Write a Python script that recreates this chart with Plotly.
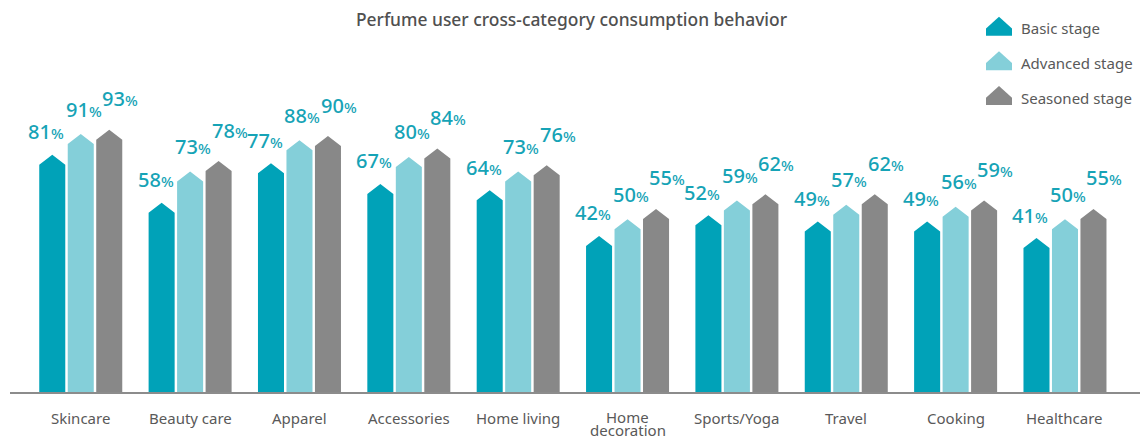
import plotly.graph_objects as go

# ---------------- data ----------------
categories = ["Skincare", "Beauty care", "Apparel", "Accessories", "Home living",
              "Home decoration", "Sports/Yoga", "Travel", "Cooking", "Healthcare"]
series_names = ["Basic stage", "Advanced stage", "Seasoned stage"]
basic = [81, 58, 77, 67, 64, 42, 52, 49, 49, 41]
advanced = [91, 73, 88, 80, 73, 50, 59, 57, 56, 50]
seasoned = [93, 78, 90, 84, 76, 55, 62, 62, 59, 55]

# ---------------- style ----------------
W, H = 1146, 437
M_L, M_R, M_T, M_B = 10, 6, 40, 45
Y_MIN, Y_MAX = -33, 136.2
X_MIN, X_MAX = -0.647, 9.686
colors = ["#00A2B8", "#84CFD9", "#888888"]
label_color = "#16A3B6"
text_gray = "#595959"
FONT = "Noto Sans"
offsets = [-0.2605, 0.0, 0.2605]
half_w = 0.119          # half bar width in category units
tip = 4.8               # height of the pointed top in value units
label_xshift = [-6, 3, 11]
label_yshift = [23, 25, 31]
WRAP_AT = 12            # category labels longer than this wrap onto two lines
LINE_GAP = 13           # px between wrapped category label lines

fig = go.Figure()
annotations = []
all_series = [basic, advanced, seasoned]
for s, vals in enumerate(all_series):
    xs, ys = [], []
    for i, v in enumerate(vals):
        cx = i + offsets[s]
        xs += [cx - half_w, cx - half_w, cx, cx + half_w, cx + half_w, cx - half_w, None]
        ys += [Y_MIN, v - tip, v, v - tip, Y_MIN, Y_MIN, None]
        annotations.append(dict(
            x=cx, y=v, xref="x", yref="y", showarrow=False,
            text=f"{v}<span style='font-size:15px'>%</span>",
            font=dict(family=FONT, size=20, color=label_color, weight=500),
            xanchor="center", yanchor="middle",
            xshift=label_xshift[s], yshift=label_yshift[s]))
    fig.add_trace(go.Scatter(
        x=xs, y=ys, mode="lines", fill="toself", fillcolor=colors[s],
        line=dict(width=0, color=colors[s]), name=series_names[s],
        showlegend=False, hoverinfo="skip"))

# ---------------- category labels (tight line spacing for wrapped ones) ----------------
for i, cat in enumerate(categories):
    lines = cat.split(" ") if len(cat) > WRAP_AT else [cat]
    base = -26 if len(lines) == 1 else -24
    for k, line in enumerate(lines):
        ann = dict(
            x=i, y=0, xref="x", yref="paper", showarrow=False, text=line,
            xanchor="center", yanchor="middle", yshift=base - LINE_GAP * k,
            borderpad=0,
            font=dict(family=FONT, size=15, color=text_gray))
        if len(lines) > 1:
            ann["height"] = LINE_GAP
        annotations.append(ann)

# ---------------- custom legend ----------------
plot_w = W - M_L - M_R
plot_h = H - M_T - M_B
shapes = []
leg_icon_left = 986
leg_text_left = 1019
leg_bottoms = [35.7, 70.2, 105.0]
leg_text_y = [28.5, 63.0, 98.0]
for s, name in enumerate(series_names):
    shapes.append(dict(
        type="path", xref="paper", yref="paper",
        xsizemode="pixel", ysizemode="pixel",
        xanchor=(leg_icon_left - M_L) / plot_w,
        yanchor=(H - M_B - leg_bottoms[s]) / plot_h,
        path="M 0,0 L 0,7.3 L 13,19 L 26,7.3 L 26,0 Z",
        fillcolor=colors[s], line=dict(width=0)))
    annotations.append(dict(
        x=(leg_text_left - M_L) / plot_w, y=(H - M_B - leg_text_y[s]) / plot_h,
        xref="paper", yref="paper", showarrow=False, text=name,
        xanchor="left", yanchor="middle",
        font=dict(family=FONT, size=15, color=text_gray)))

fig.update_layout(
    width=W, height=H,
    margin=dict(l=M_L, r=M_R, t=M_T, b=M_B, autoexpand=False),
    paper_bgcolor="white", plot_bgcolor="white",
    title=dict(text="Perfume user cross-category consumption behavior",
               x=(571.5) / W, xanchor="center", y=1 - 20 / H, yanchor="middle",
               font=dict(family=FONT, size=17.4, color="#505050", weight=500)),
    xaxis=dict(range=[X_MIN, X_MAX], showticklabels=False,
               showgrid=False, zeroline=False, showline=True, automargin=False,
               linecolor="#8C8C8C", linewidth=2, ticks=""),
    yaxis=dict(range=[Y_MIN, Y_MAX], visible=False, showgrid=False,
               zeroline=False, automargin=False),
    showlegend=False,
    shapes=shapes,
    annotations=annotations,
)

fig.write_html("out.html")
